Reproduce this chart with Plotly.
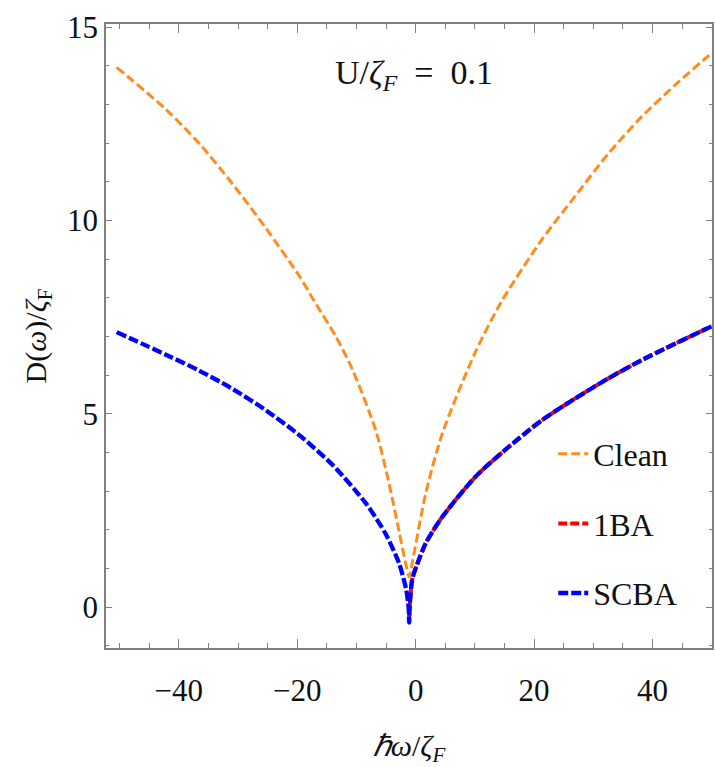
import plotly.graph_objects as go

# ---- data ----
clean_w = [-50.5, -42.1, -36.5, -30.9, -25.3, -19.6, -17.4, -13.5, -10.7, -6.7, -4.5, -2.8,
           -1.7, -1.1, -0.6, 1.7, 4.5, 10.1, 14.6, 21.3, 26.9, 32.5, 38.1, 43.8, 49.4, 50.0]
clean_d = [13.96, 12.86, 11.98, 10.94, 9.80, 8.55, 7.98, 7.00, 6.15, 4.55, 3.20, 1.95,
           1.13, 0.78, 1.13, 2.94, 4.49, 6.60, 7.93, 9.50, 10.62, 11.72, 12.67, 13.50, 14.25, 14.32]

ba1_w = [-1.1, -1.0, -0.6, -0.3, 1.7, 4.5, 10.1, 15.7, 21.3, 26.9, 32.5, 38.1, 43.8, 49.7, 50.0]
ba1_d = [-0.40, 0.05, 0.70, 0.87, 1.65, 2.33, 3.37, 4.14, 4.83, 5.39, 5.91, 6.38, 6.81, 7.24, 7.26]

scba_w = [-50.5, -42.1, -36.5, -30.9, -25.3, -19.6, -14.0, -8.4, -5.1, -2.8, -1.6, -1.2, -1.1,
          -1.0, -0.6, -0.3, 1.7, 4.5, 10.1, 15.7, 21.3, 26.9, 32.5, 38.1, 43.8, 49.7, 50.0]
scba_d = [7.11, 6.52, 6.11, 5.64, 5.09, 4.44, 3.67, 2.68, 1.90, 1.13, 0.45, 0.0, -0.40,
          0.05, 0.70, 0.87, 1.65, 2.33, 3.37, 4.14, 4.83, 5.39, 5.91, 6.38, 6.81, 7.24, 7.26]

x_ticks = [-40, -20, 0, 20, 40]
y_ticks = [0, 5, 10, 15]

FONT = "Liberation Serif"
ORANGE = "#FF8C1E"
RED = "#FF0000"
BLUE = "#0000FF"

fig = go.Figure()
fig.add_trace(go.Scatter(x=ba1_w, y=ba1_d, mode="lines", name="1BA",
                         line=dict(color=RED, width=4, dash="9px,3px", shape="spline", smoothing=0.7),
                         legendrank=2, legendgroup="b"))
fig.add_trace(go.Scatter(x=scba_w, y=scba_d, mode="lines", name="SCBA",
                         line=dict(color=BLUE, width=4.3, dash="10px,3px", shape="spline", smoothing=0.7),
                         legendrank=3, legendgroup="c"))
fig.add_trace(go.Scatter(x=clean_w, y=clean_d, mode="lines", name="Clean",
                         line=dict(color=ORANGE, width=3, dash="9px,4px", shape="spline", smoothing=0.7),
                         legendrank=1, legendgroup="a"))

axis_common = dict(
    showline=True, linecolor="#808080", linewidth=1.5, mirror="ticks",
    ticks="inside", tickcolor="#808080", tickwidth=1.2,
    showgrid=False, zeroline=False,
    tickfont=dict(family=FONT, size=31, color="#111111"),
)

fig.update_xaxes(range=[-52.3, 50.05], tickvals=x_ticks, ticklen=9,
                 minor=dict(dtick=5, ticklen=5, ticks="inside", tickcolor="#808080", tickwidth=1),
                 ticklabelstandoff=14,
                 title=dict(text="<i>ℏω</i>/<i>ζ</i><sub><i>F</i></sub>",
                            font=dict(family=FONT, size=30, color="#111111"), standoff=28),
                 **axis_common)
fig.update_yaxes(range=[-1.06, 15.08], tickvals=y_ticks, ticklen=6,
                 minor=dict(dtick=1, ticklen=3.5, ticks="inside", tickcolor="#808080", tickwidth=1),
                 title=dict(text="D(<i>ω</i>)/<i>ζ</i><sub>F</sub>",
                            font=dict(family=FONT, size=30, color="#111111"), standoff=12),
                 **axis_common)

fig.add_annotation(x=-0.2, y=13.75, xref="x", yref="y", showarrow=False,
                   text="U/<i>ζ</i><sub><i>F</i></sub>\u00a0 =\u00a0 0.1",
                   font=dict(family=FONT, size=34, color="#111111"))

fig.update_layout(
    width=715, height=767,
    margin=dict(l=106, r=1, t=24, b=119),
    paper_bgcolor="white", plot_bgcolor="white",
    showlegend=True,
    legend=dict(x=0.738, y=0.355, xanchor="left", yanchor="top",
                font=dict(family=FONT, size=32, color="#111111"),
                bgcolor="rgba(0,0,0,0)", tracegroupgap=25, traceorder="grouped"),
)

fig.write_html("out.html")
